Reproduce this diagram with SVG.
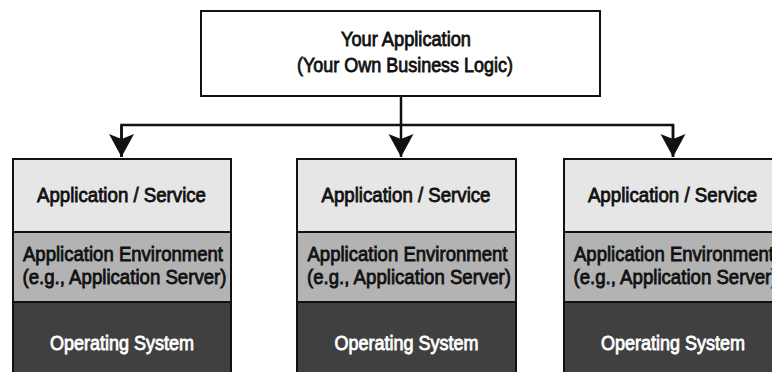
<svg xmlns="http://www.w3.org/2000/svg" width="772" height="372" viewBox="0 0 772 372">
<defs>
<style>
.t{font-family:"Liberation Sans",Arial,sans-serif;font-size:21px;font-weight:normal;fill:#111;stroke:#111;stroke-width:0.85;text-anchor:middle}
.w{fill:#fff;stroke:#fff}
.frame{fill:none;stroke:#111;stroke-width:2}
.l1{fill:#e6e6e6}
.l2{fill:#b3b3b3}
.l3{fill:#404040}
.div{stroke:#111;stroke-width:2}
.conn{fill:none;stroke:#111;stroke-width:2.5}
</style>
<marker id="ah" viewBox="0 0 24 26" refX="23" refY="13" markerWidth="24" markerHeight="26" markerUnits="userSpaceOnUse" orient="auto">
<path d="M23,13 L0,0.5 L5,13 L0,25.5 Z" fill="#111"/>
</marker>
</defs>
<rect width="772" height="372" fill="#fff"/>
<g id="top">
<rect x="201" y="11" width="399" height="85" fill="#fff" stroke="#111" stroke-width="2"/>
<text class="t" x="406" y="46" textLength="130" lengthAdjust="spacingAndGlyphs">Your Application</text>
<text class="t" x="405" y="71.5" textLength="216" lengthAdjust="spacingAndGlyphs">(Your Own Business Logic)</text>
</g>
<g id="connectors">
<line class="conn" x1="401" y1="96" x2="401" y2="125"/>
<polyline class="conn" points="121.5,157 121.5,125 673,125 673,157"/>
<line class="conn" x1="121.5" y1="125" x2="121.5" y2="157" marker-end="url(#ah)"/>
<line class="conn" x1="401" y1="125" x2="401" y2="157" marker-end="url(#ah)"/>
<line class="conn" x1="673" y1="125" x2="673" y2="157" marker-end="url(#ah)"/>
</g>
<g id="stack1">
<rect class="l1" x="13" y="159" width="218" height="73"/>
<rect class="l2" x="13" y="232" width="218" height="70"/>
<rect class="l3" x="13" y="302" width="218" height="80"/>
<line class="div" x1="12" y1="232" x2="232" y2="232"/>
<line class="div" x1="12" y1="302" x2="232" y2="302"/>
<rect class="frame" x="13" y="159" width="218" height="230"/>
<text class="t" x="121.5" y="202" textLength="169" lengthAdjust="spacingAndGlyphs">Application / Service</text>
<text class="t" x="123" y="260.5" textLength="200" lengthAdjust="spacingAndGlyphs">Application Environment</text>
<text class="t" x="124.5" y="283.5" textLength="204" lengthAdjust="spacingAndGlyphs">(e.g., Application Server)</text>
<text class="t w" x="122" y="350" textLength="144" lengthAdjust="spacingAndGlyphs">Operating System</text>
</g>
<g id="stack2">
<rect class="l1" x="297" y="159" width="219" height="73"/>
<rect class="l2" x="297" y="232" width="219" height="70"/>
<rect class="l3" x="297" y="302" width="219" height="80"/>
<line class="div" x1="296" y1="232" x2="517" y2="232"/>
<line class="div" x1="296" y1="302" x2="517" y2="302"/>
<rect class="frame" x="297" y="159" width="219" height="230"/>
<text class="t" x="406" y="202" textLength="169" lengthAdjust="spacingAndGlyphs">Application / Service</text>
<text class="t" x="407.5" y="260.5" textLength="200" lengthAdjust="spacingAndGlyphs">Application Environment</text>
<text class="t" x="409" y="283.5" textLength="204" lengthAdjust="spacingAndGlyphs">(e.g., Application Server)</text>
<text class="t w" x="406.5" y="350" textLength="144" lengthAdjust="spacingAndGlyphs">Operating System</text>
</g>
<g id="stack3">
<rect class="l1" x="564" y="159" width="218" height="73"/>
<rect class="l2" x="564" y="232" width="218" height="70"/>
<rect class="l3" x="564" y="302" width="218" height="80"/>
<line class="div" x1="563" y1="232" x2="783" y2="232"/>
<line class="div" x1="563" y1="302" x2="783" y2="302"/>
<rect class="frame" x="564" y="159" width="218" height="230"/>
<text class="t" transform="translate(672.5,202) scale(0.89,1)" x="0" y="0">Application / Service</text>
<text class="t" x="674" y="260.5" textLength="200" lengthAdjust="spacingAndGlyphs">Application Environment</text>
<text class="t" x="675.5" y="283.5" textLength="204" lengthAdjust="spacingAndGlyphs">(e.g., Application Server)</text>
<text class="t w" x="673" y="350" textLength="144" lengthAdjust="spacingAndGlyphs">Operating System</text>
</g>
</svg>
